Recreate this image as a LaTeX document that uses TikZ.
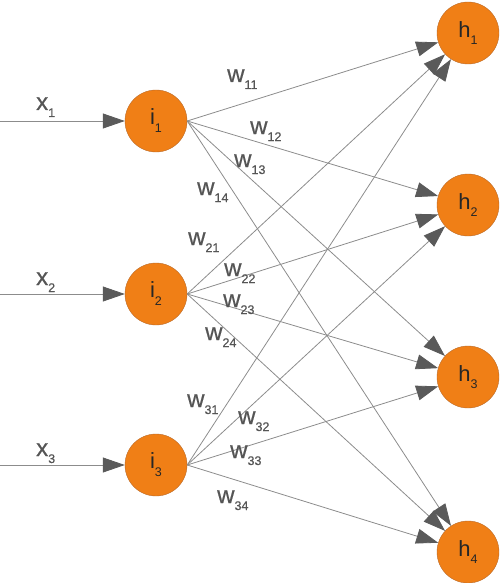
\documentclass[tikz,border=0pt]{standalone}
\usepackage{fontspec}
\setmainfont{Liberation Sans}
\newfontfamily\poidsfont{Liberation Sans}[FakeBold=0.6]
\usetikzlibrary{arrows.meta}
\definecolor{orangeN}{HTML}{F07F16}
\definecolor{bordN}{HTML}{B8692A}
\definecolor{grisTrait}{HTML}{8C8C8C}
\definecolor{grisPointe}{HTML}{5A5A5A}
\definecolor{grisTexte}{HTML}{555555}
\newcommand{\ind}[3]{#1\raisebox{-#3}{\fontsize{12.5}{13}\selectfont #2}}

\begin{document}
\begin{tikzpicture}[x=1pt, y=-1pt,
    neurone/.style={draw=bordN, fill=orangeN, circle, minimum size=62pt, inner sep=0pt,
      text=black!85, font=\fontsize{22}{24}\selectfont},
    lien/.style={draw=grisTrait, line width=0.8pt,
      -{Triangle[length=22pt, width=15pt, color=grisPointe]}},
    poids/.style={anchor=base west, inner sep=0pt, text=grisTexte,
      font=\poidsfont\fontsize{24}{26}\selectfont}]
  \useasboundingbox (0,0) rectangle (500,583);

  % Déclaration des neurones d'entrée
  \node[neurone] (i1) at (156,121) {\ind{i}{1}{8pt}};
  \node[neurone] (i2) at (156,294) {\ind{i}{2}{8pt}};
  \node[neurone] (i3) at (156,465) {\ind{i}{3}{8pt}};

  % Déclaration des neurones cachés
  \node[neurone] (h1) at (468,33) {\ind{h}{1}{7pt}};
  \node[neurone] (h2) at (468,205) {\ind{h}{2}{7pt}};
  \node[neurone] (h3) at (468,377) {\ind{h}{3}{7pt}};
  \node[neurone] (h4) at (468,552) {\ind{h}{4}{7pt}};

  % Entrées
  \coordinate (e1) at (0,121);
  \coordinate (e2) at (0,294);
  \coordinate (e3) at (0,465);
  \draw[lien] (e1) -- (i1);
  \draw[lien] (e2) -- (i2);
  \draw[lien] (e3) -- (i3);
  \node[poids] (x1) at (36,110) {\ind{x}{1}{7pt}};
  \node[poids] (x2) at (36,285) {\ind{x}{2}{7pt}};
  \node[poids] (x3) at (36,456) {\ind{x}{3}{7pt}};

  % Ajout des connexions
  \draw[lien] (i1.east) -- (h1);
  \draw[lien] (i1.east) -- (h2);
  \draw[lien] (i1.east) -- (h3);
  \draw[lien] (i1.east) -- (h4);
  \draw[lien] (i2.east) -- (h1);
  \draw[lien] (i2.east) -- (h2);
  \draw[lien] (i2.east) -- (h3);
  \draw[lien] (i2.east) -- (h4);
  \draw[lien] (i3.east) -- (h1);
  \draw[lien] (i3.east) -- (h2);
  \draw[lien] (i3.east) -- (h3);
  \draw[lien] (i3.east) -- (h4);

  % Poids
  \node[poids] (w11) at (227,82) {\ind{w}{11}{7pt}};
  \node[poids] (w12) at (250,134) {\ind{w}{12}{7pt}};
  \node[poids] (w13) at (234,167) {\ind{w}{13}{7pt}};
  \node[poids] (w14) at (197,195) {\ind{w}{14}{7pt}};
  \node[poids] (w21) at (188,245) {\ind{w}{21}{7pt}};
  \node[poids] (w22) at (224,276) {\ind{w}{22}{7pt}};
  \node[poids] (w23) at (223,307) {\ind{w}{23}{7pt}};
  \node[poids] (w24) at (205,340) {\ind{w}{24}{7pt}};
  \node[poids] (w31) at (187,407) {\ind{w}{31}{7pt}};
  \node[poids] (w32) at (238,424) {\ind{w}{32}{7pt}};
  \node[poids] (w33) at (230,458) {\ind{w}{33}{7pt}};
  \node[poids] (w34) at (217,503) {\ind{w}{34}{7pt}};
\end{tikzpicture}
\end{document}
